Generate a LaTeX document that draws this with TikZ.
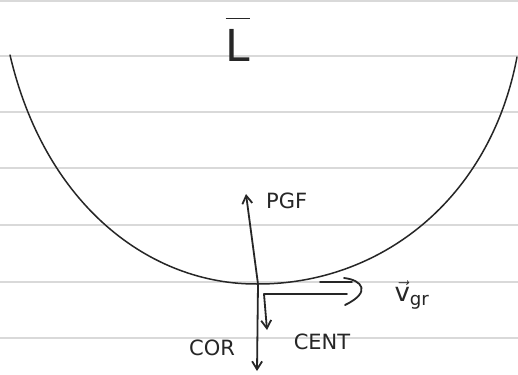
\documentclass[tikz,border=0pt]{standalone}
\usepackage{fontspec}
\setsansfont{DejaVu Sans}
\usetikzlibrary{arrows.meta}
\begin{document}
\begin{tikzpicture}[x=1pt,y=-1pt,
  ruled/.style={gray!30,line width=1.2pt},
  ink/.style={black!85,line width=1.8pt,line cap=round,line join=round},
  vec/.style={ink,-{Straight Barb[length=8pt,width=10pt]}},
  lbl/.style={font=\sffamily\fontsize{21}{21}\selectfont,inner sep=0pt,text=black!85}]
\useasboundingbox (0,0) rectangle (518,374);
\fill[white] (0,0) rectangle (518,374);
\foreach \y in {1,56,112,168,225,282,338}
  \draw[ruled] (0,\y) -- (518,\y);
% title
\node[lbl,font=\sffamily\fontsize{44}{44}\selectfont] (title) at (238,40) {$\overline{\mathsf{L}\rule{0pt}{0.95em}}$};
% curve
\coordinate (left) at (10,55);
\coordinate (bottom) at (258,284);
\coordinate (right) at (517,57);
\draw[ink,line width=1.5pt] (left) .. controls (45,205) and (150,285) .. (bottom)
  .. controls (380,284) and (490,200) .. (right);
% PGF
\coordinate (pgftip) at (246,194);
\draw[vec] (bottom) -- (pgftip);
\node[lbl,anchor=west] (pgf) at (266,201) {PGF};
% COR
\coordinate (cortip) at (257,371);
\draw[vec] (bottom) -- (cortip);
\node[lbl] (cor) at (212,348) {COR};
% CENT
\coordinate (centa) at (264,294);
\coordinate (centb) at (347,294);
\coordinate (centtip) at (267,330);
\draw[ink] (centb) -- (centa);
\draw[vec] (centa) -- (centtip);
\node[lbl] (cent) at (322,342) {CENT};
% velocity
\coordinate (va) at (320,282);
\coordinate (vb) at (352,282);
\draw[ink] (va) -- (vb);
\draw[ink] (344,278) .. controls (362,280) and (372,292) .. (345,305);
\node[lbl,font=\sffamily\fontsize{26}{26}\selectfont] (vgr) at (412,295) {$\vec{\mathsf{v}}_{\mathsf{gr}}$};
\end{tikzpicture}
\end{document}
